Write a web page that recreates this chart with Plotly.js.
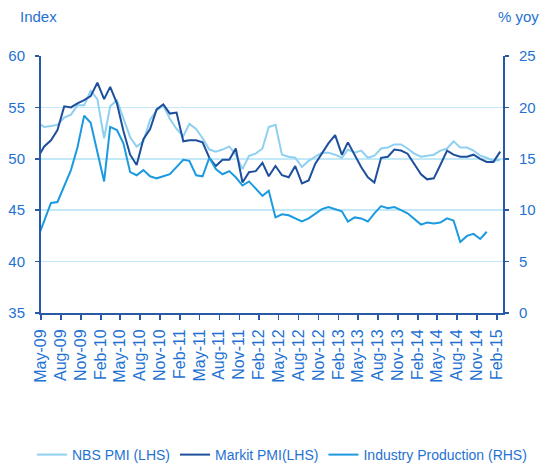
<!DOCTYPE html>
<html>
<head>
<meta charset="utf-8">
<script src="https://cdn.plot.ly/plotly-3.0.1.min.js"></script>
<style>
  html, body { margin: 0; padding: 0; background: #ffffff; }
  #chart { width: 547px; height: 471px; }
</style>
</head>
<body>
<div id="chart"></div>
<script>
// Monthly observations, Apr-2009 .. Feb-2015 (first point lies just left of the axis start)
const firstYear = 2009;
const firstMonth = 4; // April
const nbsPmi = [
  53.5, 53.1, 53.2, 53.3, 54.0, 54.3, 55.2, 55.2, 56.6,
  55.8, 52.0, 55.1, 55.7, 53.9, 52.1, 51.2, 51.7, 53.8, 54.7, 55.2, 53.9,
  52.9, 52.2, 53.4, 52.9, 52.0, 50.9, 50.7, 50.9, 51.2, 50.4, 49.0, 50.3,
  50.5, 51.0, 53.1, 53.3, 50.4, 50.2, 50.1, 49.2, 49.8, 50.2, 50.6, 50.6,
  50.4, 50.1, 50.9, 50.6, 50.8, 50.1, 50.3, 51.0, 51.1, 51.4, 51.4, 51.0,
  50.5, 50.2, 50.3, 50.4, 50.8, 51.0, 51.7, 51.1, 51.1, 50.8, 50.3, 50.1,
  49.8, 49.9
];
const markitPmi = [
  50.1, 51.2, 51.8, 52.8, 55.1, 55.0, 55.4, 55.7, 56.1,
  57.4, 55.8, 57.0, 55.4, 52.7, 50.4, 49.4, 51.9, 52.9, 54.8, 55.3, 54.4,
  54.5, 51.7, 51.8, 51.8, 51.6, 50.1, 49.3, 49.9, 49.9, 51.0, 47.7, 48.7,
  48.8, 49.6, 48.3, 49.3, 48.4, 48.2, 49.3, 47.6, 47.9, 49.5, 50.5, 51.5,
  52.3, 50.4, 51.6, 50.4, 49.2, 48.2, 47.7, 50.1, 50.2, 50.9, 50.8, 50.5,
  49.5, 48.5, 48.0, 48.1, 49.4, 50.8, 50.4, 50.2, 50.2, 50.4, 50.0, 49.7,
  49.7, 50.7
];
const industryProduction = [
  7.3, 8.9, 10.7, 10.8, 12.3, 13.9, 16.1, 19.2, 18.5,
  null, 12.8, 18.1, 17.8, 16.5, 13.7, 13.4, 13.9, 13.3, 13.1, 13.3, 13.5,
  null, 14.9, 14.8, 13.4, 13.3, 15.1, 14.0, 13.5, 13.8, 13.2, 12.4, 12.8,
  null, 11.4, 11.9, 9.3, 9.6, 9.5, 9.2, 8.9, 9.2, 9.6, 10.1, 10.3,
  null, 9.9, 8.9, 9.3, 9.2, 8.9, 9.7, 10.4, 10.2, 10.3, 10.0, 9.7,
  null, 8.6, 8.8, 8.7, 8.8, 9.2, 9.0, 6.9, 7.5, 7.7, 7.2, 7.9,
  null, null
];
const seriesNames = ['NBS PMI (LHS)', 'Markit PMI(LHS)', 'Industry Production (RHS)'];
const leftTitle = 'Index';
const rightTitle = '% yoy';

// month dates (mid-month) for each observation
const dates = nbsPmi.map((_, i) => {
  const m0 = (firstMonth - 1) + i;
  const y = firstYear + Math.floor(m0 / 12);
  const m = (m0 % 12) + 1;
  return y + '-' + String(m).padStart(2, '0') + '-16';
});

const W = 547, H = 471;
const textColor = '#1f72d2';
const axisColor = '#2a5aa6';
const gridColor = '#c3e8f8';
const font = 'Liberation Sans, Arial, sans-serif';

const traces = [
  { x: dates, y: nbsPmi, name: seriesNames[0], type: 'scatter', mode: 'lines',
    line: { color: '#8fd0f0', width: 2 }, yaxis: 'y' },
  { x: dates, y: markitPmi, name: seriesNames[1], type: 'scatter', mode: 'lines',
    line: { color: '#1d4f9c', width: 2 }, yaxis: 'y' },
  { x: dates, y: industryProduction, name: seriesNames[2], type: 'scatter', mode: 'lines',
    connectgaps: true, line: { color: '#1b9ae0', width: 2 }, yaxis: 'y2' }
];

const layout = {
  width: W, height: H,
  margin: { l: 0, r: 0, t: 0, b: 0, pad: 0 },
  paper_bgcolor: '#ffffff', plot_bgcolor: '#ffffff',
  font: { family: font, color: textColor, size: 15 },
  showlegend: true,
  legend: {
    orientation: 'h',
    x: 32 / W, xanchor: 'left', y: 0, yanchor: 'bottom',
    font: { family: font, size: 14, color: textColor },
    bgcolor: 'rgba(0,0,0,0)', borderwidth: 0, tracegroupgap: 0
  },
  xaxis: {
    type: 'date', automargin: false,
    domain: [41 / W, 503 / W],
    range: ['2009-05-01', '2015-03-01'],
    tick0: '2009-05-01', dtick: 'M3', tickformat: '%b-%y',
    tickangle: -90,
    showgrid: false, zeroline: false,
    showline: true, linecolor: axisColor, linewidth: 2,
    ticks: 'outside', ticklen: 5, tickwidth: 1.5, tickcolor: axisColor,
    tickfont: { family: font, size: 16, color: textColor },
    ticklabelstandoff: 3
  },
  yaxis: {
    automargin: false,
    domain: [(H - 313) / H, (H - 56) / H],
    range: [35, 60], dtick: 5, tick0: 35,
    showgrid: true, gridcolor: gridColor, gridwidth: 1.5,
    zeroline: false,
    showline: true, linecolor: axisColor, linewidth: 2,
    ticks: 'outside', ticklen: 4, tickwidth: 1.5, tickcolor: axisColor,
    tickfont: { family: font, size: 15, color: textColor },
    ticklabelstandoff: 7
  },
  yaxis2: {
    automargin: false,
    range: [0, 25], dtick: 5, tick0: 0,
    overlaying: 'y', side: 'right',
    showgrid: false, zeroline: false,
    showline: true, linecolor: axisColor, linewidth: 2,
    ticks: 'outside', ticklen: 4, tickwidth: 1.5, tickcolor: axisColor,
    tickfont: { family: font, size: 15, color: textColor },
    ticklabelstandoff: 7
  },
  annotations: [
    { text: leftTitle, xref: 'paper', yref: 'paper', x: 39 / W, y: 1 - 17 / H,
      xanchor: 'center', yanchor: 'middle', showarrow: false,
      font: { family: font, size: 15, color: textColor } },
    { text: rightTitle, xref: 'paper', yref: 'paper', x: 518 / W, y: 1 - 17 / H,
      xanchor: 'center', yanchor: 'middle', showarrow: false,
      font: { family: font, size: 15, color: textColor } }
  ]
};

Plotly.newPlot('chart', traces, layout, { staticPlot: true, displayModeBar: false });
</script>
</body>
</html>
